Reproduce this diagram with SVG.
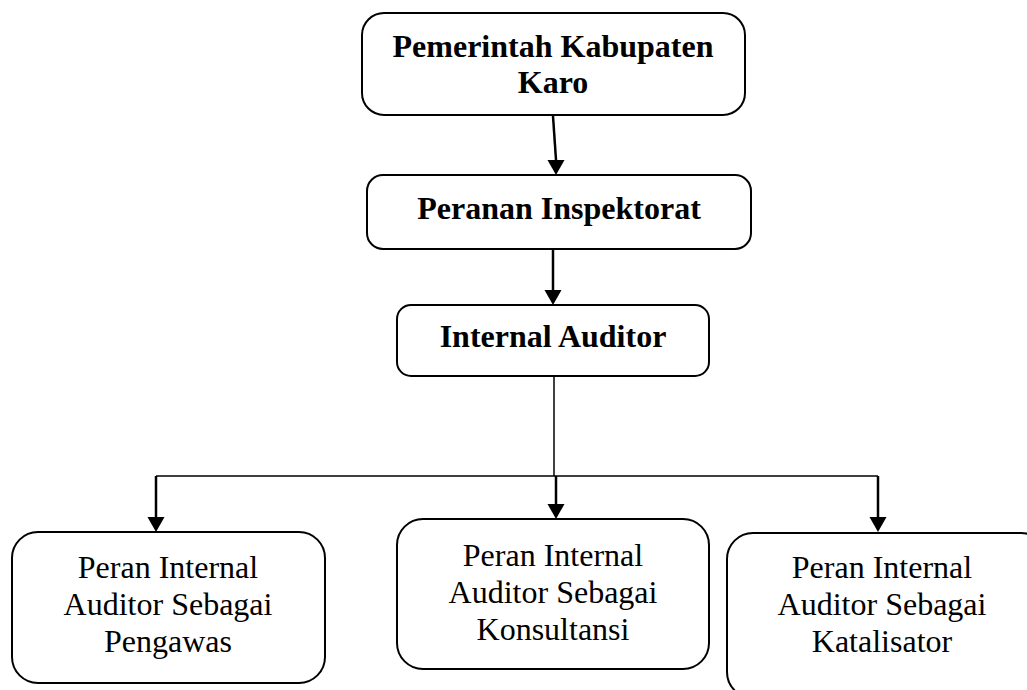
<svg xmlns="http://www.w3.org/2000/svg" width="1027" height="690" viewBox="0 0 1027 690">
<style>
.box{fill:#fff;stroke:#000;stroke-width:2}
.b{font-family:"Liberation Serif","Times New Roman",serif;font-size:32px;font-weight:bold;text-anchor:middle;fill:#000}
.r{font-family:"Liberation Serif","Times New Roman",serif;font-size:32px;text-anchor:middle;fill:#000}
.c{fill:none;stroke:#000;stroke-width:2.5}
.h{fill:none;stroke:#000;stroke-width:1.5}
</style>
<defs>
<marker id="ah" markerWidth="17" markerHeight="15" refX="8.5" refY="15" orient="auto-start-reverse" markerUnits="userSpaceOnUse" viewBox="0 0 17 15">
<path d="M0,0 L17,0 L8.5,15 Z" fill="#000"/>
</marker>
</defs>
<rect width="1027" height="690" fill="#fff"/>
<g id="connectors">
<path class="c" d="M553,116 L556,160"/>
<path d="M547.5,160 L564.5,160 L556,175 Z" fill="#000"/>
<path class="c" d="M553,250 L553,290"/>
<path d="M544.5,290 L561.5,290 L553,305 Z" fill="#000"/>
<path class="h" d="M554,377 L554,476"/>
<path class="h" d="M156,476 L878,476"/>
<path class="c" d="M156,476 L156,517"/>
<path d="M147.5,517 L164.5,517 L156,532 Z" fill="#000"/>
<path class="c" d="M556,476 L556,504"/>
<path d="M547.5,504 L564.5,504 L556,519 Z" fill="#000"/>
<path class="c" d="M878,476 L878,517"/>
<path d="M869.5,517 L886.5,517 L878,532 Z" fill="#000"/>
</g>
<g id="node-pemerintah">
<rect class="box" x="362" y="13" width="383" height="102" rx="22"/>
<text class="b" x="553" y="57">Pemerintah Kabupaten</text>
<text class="b" x="553" y="93">Karo</text>
</g>
<g id="node-inspektorat">
<rect class="box" x="367" y="175" width="384" height="74" rx="16"/>
<text class="b" x="559" y="219">Peranan Inspektorat</text>
</g>
<g id="node-internal-auditor">
<rect class="box" x="397" y="305" width="312" height="71" rx="14"/>
<text class="b" x="553" y="347">Internal Auditor</text>
</g>
<g id="node-pengawas">
<rect class="box" x="12" y="532" width="313" height="151" rx="26"/>
<text class="r" x="168" y="578">Peran Internal</text>
<text class="r" x="168" y="615">Auditor Sebagai</text>
<text class="r" x="168" y="652">Pengawas</text>
</g>
<g id="node-konsultansi">
<rect class="box" x="397" y="519" width="312" height="150" rx="26"/>
<text class="r" x="553" y="566">Peran Internal</text>
<text class="r" x="553" y="603">Auditor Sebagai</text>
<text class="r" x="553" y="640">Konsultansi</text>
</g>
<g id="node-katalisator">
<rect class="box" x="727" y="533" width="320" height="165" rx="26"/>
<text class="r" x="882" y="578">Peran Internal</text>
<text class="r" x="882" y="615">Auditor Sebagai</text>
<text class="r" x="882" y="652">Katalisator</text>
</g>
</svg>
